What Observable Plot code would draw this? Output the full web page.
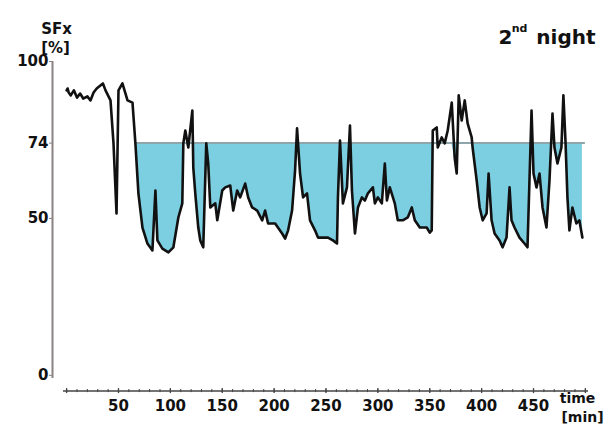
<!DOCTYPE html>
<html>
<head>
<meta charset="utf-8">
<script src="https://cdn.jsdelivr.net/npm/d3@7"></script>
<script src="https://cdn.jsdelivr.net/npm/@observablehq/plot@0.6"></script>
<style>
  html, body { margin: 0; padding: 0; background: #fff; }
</style>
</head>
<body>
<div id="chart"></div>
<script>
// time [min]
const times = [0,1,2,4,7,10,13,16,20,23,26,29,35,37.5,42.3,45.2,48.1,50,53.8,58.7,63.5,66.3,69.2,73.1,77.9,82.7,85.6,87.5,92.3,98.1,102.9,107.7,111.5,112.5,114.4,117.3,121.2,122.1,124,126.9,128.8,131.7,134.6,136.5,138.5,143.3,145.2,150,152.9,157.7,160.6,164.4,167.3,172.1,175,178.8,183.7,188.5,191.3,194.2,201,207.7,210.6,213.5,217.3,220.2,222.1,225,227.9,231.7,234.6,239.4,242.3,246.2,251.9,256.7,260.6,261.5,263.5,266.3,270.2,273.1,275,277.9,280.8,284.6,287.5,290.4,295.2,297.1,300,303.8,306.7,308.7,311.5,316.3,319.2,324,328.8,332.7,335.6,340.4,347.1,350,351.9,352.9,356.7,357.7,361.5,364.4,367.3,371.2,374,376,377.9,380.8,383.7,386.5,390.4,391.3,395.2,398.1,401,404.8,406.7,409.6,412.5,417.3,420.2,424,426.9,428.8,431.7,436.5,441.3,444.2,448.1,450,452.9,455.8,458.7,462.5,465.4,468.3,470.2,473.1,476.9,478.8,480.8,482.7,484.6,487.5,491.3,494.2,497.1];
// SFx [%]
const sfx = [90.8,91.4,90.1,89.2,90.8,88.5,89.8,88.2,88.9,87.6,90.1,91.4,93.0,90.8,87.6,73.9,51.6,90.8,93.0,87.6,86.9,73.9,58.0,47.1,42.0,39.8,58.9,43.0,40.4,39.2,40.8,50.3,54.8,73.9,78.0,72.6,84.4,66.2,58.0,47.1,43.0,40.8,73.9,67.5,53.5,54.8,49.4,58.9,59.9,60.5,52.5,58.9,56.7,61.1,56.7,53.5,52.5,49.4,52.5,48.4,48.4,45.2,43.6,46.2,52.5,65.3,78.7,64.3,56.7,58.0,49.4,46.2,43.9,43.9,43.9,43.0,42.0,56.7,74.8,54.8,59.9,79.6,58.9,45.2,53.5,56.7,55.7,58.0,59.9,54.8,56.7,54.8,67.5,55.7,59.9,54.8,49.4,49.4,50.3,53.5,49.4,47.1,47.1,45.5,46.2,78.0,79.0,72.6,75.8,73.9,78.0,86.9,69.4,64.3,89.2,81.2,87.6,80.3,75.8,72.6,62.1,53.5,49.4,51.6,64.3,49.4,45.2,43.0,40.8,43.9,59.9,49.4,47.1,43.9,42.0,40.8,84.4,64.3,59.9,64.3,53.5,47.1,62.1,83.4,72.6,67.5,72.6,89.2,74.8,56.7,46.2,53.5,48.4,49.4,43.9];

const threshold = [74];
const shadeStart = 66.3;
const shadeEnd = 500;
const yTicks = [0, 50, 74, 100];
const xTickLabels = [50, 100, 150, 200, 250, 300, 350, 400, 450];
const xMinorTicks = d3.range(0, 501, 10);
const xMajorTicks = d3.range(0, 501, 50);

const data = times.map((t, i) => ({t, v: sfx[i]}));
const shaded = data.filter(d => d.t >= shadeStart);

const font = "DejaVu Sans, Verdana, sans-serif";

const chart = Plot.plot({
  width: 608,
  height: 432,
  marginLeft: 52,
  marginRight: 20,
  marginTop: 61,
  marginBottom: 54,
  style: {fontFamily: font, fontWeight: "bold", fontSize: "15px", color: "#111", background: "#fff"},
  x: {domain: [-13.6, 503], axis: null},
  y: {domain: [-1, 100], axis: null},
  marks: [
    Plot.areaY(shaded, {x: "t", y1: threshold[0], y2: d => Math.min(d.v, threshold[0]), fill: "#7ccfe1", fillOpacity: 1}),
    Plot.ruleY(threshold, {x1: shadeStart, x2: shadeEnd, stroke: "#8ea5ab", strokeWidth: 2}),
    Plot.line(data, {x: "t", y: "v", stroke: "#111", strokeWidth: 2.6, strokeLinejoin: "round"}),
    // y axis
    Plot.ruleX([-13.6], {y1: -1, y2: 100, stroke: "#8a8283", strokeWidth: 2}),
    Plot.axisY({ticks: yTicks, anchor: "left", tickSize: 3, tickPadding: 1, label: null, stroke: "#8a8283", fontSize: 15}),
    // x axis
    Plot.ruleY([-5], {x1: -3, x2: 503, stroke: "#444", strokeWidth: 1.5}),
    Plot.ruleX(xMinorTicks, {x: d => d, y1: -4.5, y2: -5.5, stroke: "#444", strokeWidth: 1}),
    Plot.ruleX(xMajorTicks, {x: d => d, y1: -4.2, y2: -5.8, stroke: "#444", strokeWidth: 1.3}),
    Plot.axisX({ticks: xTickLabels, anchor: "bottom", tickSize: 0, tickPadding: 22, label: null, fontSize: 15}),
    // axis titles
    Plot.text(["SFx"], {frameAnchor: "top-left", textAnchor: "middle", dx: 4, dy: -38, text: d => d, fontSize: 15, fontWeight: "bold"}),
    Plot.text(["[%]"], {frameAnchor: "top-left", textAnchor: "middle", dx: 3, dy: -19, text: d => d, fontSize: 15, fontWeight: "bold"}),
    Plot.text(["time"], {frameAnchor: "bottom-right", textAnchor: "middle", dx: -11, dy: 24, text: d => d, fontSize: 14, fontWeight: "bold"}),
    Plot.text(["[min]"], {frameAnchor: "bottom-right", textAnchor: "middle", dx: -6, dy: 43, text: d => d, fontSize: 14, fontWeight: "bold"}),
    // title
    Plot.text(["night"], {frameAnchor: "top-right", textAnchor: "end", dx: 7, dy: -32, text: d => d, fontSize: 20, fontWeight: "bold"}),
    Plot.text(["nd"], {frameAnchor: "top-right", textAnchor: "end", dx: -61, dy: -37, text: d => d, fontSize: 11, fontWeight: "bold"}),
    Plot.text(["2"], {frameAnchor: "top-right", textAnchor: "end", dx: -76, dy: -32, text: d => d, fontSize: 20, fontWeight: "bold"})
  ]
});
document.getElementById("chart").appendChild(chart);
</script>
</body>
</html>
